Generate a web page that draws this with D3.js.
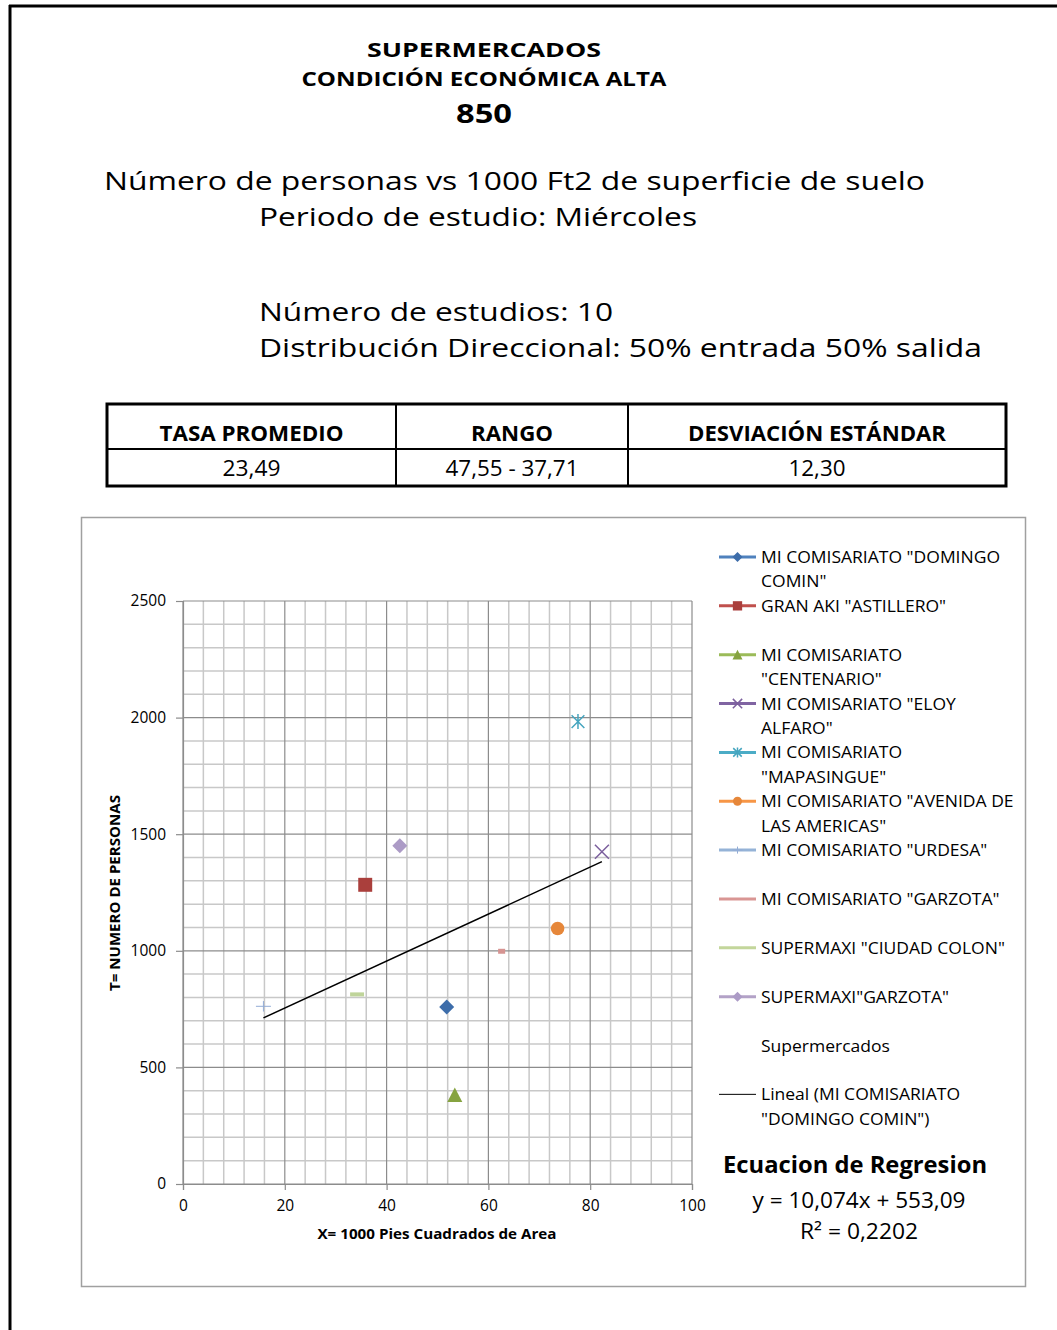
<!DOCTYPE html>
<html>
<head>
<meta charset="utf-8">
<script src="https://cdn.jsdelivr.net/npm/d3@7"></script>
<style>
  body { margin: 0; background: #fff; }
  svg { display: block; }
  text { font-family: "Open Sans", sans-serif; fill: #000; }
</style>
</head>
<body>
<div id="chart"></div>
<script>
// ---- data ----
var titleLines = ["SUPERMERCADOS", "CONDICIÓN ECONÓMICA ALTA", "850"];
var subtitleLines = [
  "Número de personas vs 1000 Ft2 de superficie de suelo",
  "Periodo de estudio: Miércoles",
  "Número de estudios: 10",
  "Distribución Direccional: 50% entrada 50% salida"
];
var tableHeaders = ["TASA PROMEDIO", "RANGO", "DESVIACIÓN ESTÁNDAR"];
var tableValues = ["23,49", "47,55 - 37,71", "12,30"];

var stores = [
  'MI COMISARIATO "DOMINGO COMIN"',
  'GRAN AKI "ASTILLERO"',
  'MI COMISARIATO "CENTENARIO"',
  'MI COMISARIATO "ELOY ALFARO"',
  'MI COMISARIATO "MAPASINGUE"',
  'MI COMISARIATO "AVENIDA DE LAS AMERICAS"',
  'MI COMISARIATO "URDESA"',
  'MI COMISARIATO "GARZOTA"',
  'SUPERMAXI "CIUDAD COLON"',
  'SUPERMAXI"GARZOTA"'
];
// legend text as it wraps in the picture
var legendLines = [
  ['MI COMISARIATO "DOMINGO', 'COMIN"'],
  ['GRAN AKI "ASTILLERO"'],
  ['MI COMISARIATO', '"CENTENARIO"'],
  ['MI COMISARIATO "ELOY', 'ALFARO"'],
  ['MI COMISARIATO', '"MAPASINGUE"'],
  ['MI COMISARIATO "AVENIDA DE', 'LAS AMERICAS"'],
  ['MI COMISARIATO "URDESA"'],
  ['MI COMISARIATO "GARZOTA"'],
  ['SUPERMAXI "CIUDAD COLON"'],
  ['SUPERMAXI"GARZOTA"'],
  ['Supermercados'],
  ['Lineal (MI COMISARIATO', '"DOMINGO COMIN")']
];
var areaX    = [51.8, 35.8, 53.4, 82.3, 77.6, 73.6, 15.8, 62.6, 34.2, 42.6];
var personsY = [759, 1283, 382, 1425, 1983, 1096, 762, 998, 813, 1451];

var xTicks = [0, 20, 40, 60, 80, 100];
var yTicks = [0, 500, 1000, 1500, 2000, 2500];
var slope = 10.074, intercept = 553.09, rSquared = 0.2202;

// ---- styles per series (same order as stores) ----
var markerKind = ["diamond", "square", "triangle", "x", "star", "circle", "plus", "dashSmall", "dashWide", "diamond"];
var markerColor = ["#3d6daa", "#aa3f3c", "#86a340", "#7b5f9d", "#45a5bf", "#e6873a", "#93acd5", "#d69492", "#bfd49a", "#ac9bc6"];
var lineColor = ["#4f81bd", "#c0504d", "#9bbb59", "#8064a2", "#4bacc6", "#f79646", "#95b3d7", "#d99694", "#c3d69b", "#b3a2c7"];

var locale = d3.formatLocale({decimal: ",", thousands: ".", grouping: [3], currency: ["", ""]});
var fmt3 = locale.format(".3f"), fmt2 = locale.format(".2f"), fmt4 = locale.format(".4f");

var W = 1057, H = 1330;
var svg = d3.select("#chart").append("svg").attr("width", W).attr("height", H);

function fit(sel, w) {
  sel.attr("textLength", w).attr("lengthAdjust", "spacingAndGlyphs");
}
function stretch(sel, k) {
  sel.each(function() {
    var n = this.getComputedTextLength();
    d3.select(this).attr("textLength", n * k).attr("lengthAdjust", "spacingAndGlyphs");
  });
}

// page frame (top and left only)
svg.append("line").attr("x1", 9).attr("x2", W).attr("y1", 6).attr("y2", 6)
  .attr("stroke", "#000").attr("stroke-width", 3);
svg.append("line").attr("x1", 10).attr("x2", 10).attr("y1", 5).attr("y2", H)
  .attr("stroke", "#000").attr("stroke-width", 3);

// titles
var titleY = [57, 86, 123], titleW = [234, 365, 56], titleSize = [20, 20, 26];
titleLines.forEach(function(t, i) {
  svg.append("text").attr("x", 484).attr("y", titleY[i])
    .attr("text-anchor", "middle").attr("font-weight", "bold")
    .attr("font-size", titleSize[i]).text(t).call(fit, titleW[i]);
});

var subX = [104, 259, 259, 259], subY = [190, 226, 321, 357], subW = [821, 438, 354, 723];
subtitleLines.forEach(function(t, i) {
  svg.append("text").attr("x", subX[i]).attr("y", subY[i])
    .attr("font-size", 25).text(t).call(fit, subW[i]);
});

// table
var colEdges = [107, 396, 628, 1006];
var table = svg.append("g");
table.append("rect").attr("x", 107).attr("y", 404).attr("width", 899).attr("height", 82)
  .attr("fill", "none").attr("stroke", "#000").attr("stroke-width", 3);
table.append("line").attr("x1", 107).attr("x2", 1006).attr("y1", 449).attr("y2", 449)
  .attr("stroke", "#000").attr("stroke-width", 2);
[1, 2].forEach(function(i) {
  table.append("line").attr("x1", colEdges[i]).attr("x2", colEdges[i]).attr("y1", 404).attr("y2", 486)
    .attr("stroke", "#000").attr("stroke-width", 2);
});
var headW = [184, 82, 258], valW = [58, 133, 57];
tableHeaders.forEach(function(t, i) {
  var cx = (colEdges[i] + colEdges[i + 1]) / 2;
  table.append("text").attr("x", cx).attr("y", 441).attr("text-anchor", "middle")
    .attr("font-weight", "bold").attr("font-size", 21).text(t).call(fit, headW[i]);
  table.append("text").attr("x", cx).attr("y", 476).attr("text-anchor", "middle")
    .attr("font-size", 21).text(tableValues[i]).call(fit, valW[i]);
});

// chart box
svg.append("rect").attr("x", 81.5).attr("y", 517.5).attr("width", 944).attr("height", 769)
  .attr("fill", "#fff").attr("stroke", "#a0a0a0").attr("stroke-width", 1.5);

var x = d3.scaleLinear().domain([0, 100]).range([183, 692]);
var y = d3.scaleLinear().domain([0, 2500]).range([1184, 601]);

// grid
var grid = svg.append("g");
grid.selectAll(".vmin").data(d3.range(0, 101, 4).filter(function(v) { return v % 20; }))
  .enter().append("line").attr("x1", x).attr("x2", x).attr("y1", y(0)).attr("y2", y(2500))
  .attr("stroke", "#c8c8c8").attr("stroke-width", 1.5);
grid.selectAll(".hmin").data(d3.range(0, 2501, 100).filter(function(v) { return v % 500; }))
  .enter().append("line").attr("y1", y).attr("y2", y).attr("x1", x(0)).attr("x2", x(100))
  .attr("stroke", "#c8c8c8").attr("stroke-width", 1.5);
grid.selectAll(".vmaj").data(xTicks)
  .enter().append("line").attr("x1", x).attr("x2", x).attr("y1", y(0)).attr("y2", y(2500))
  .attr("stroke", "#8c8c8c").attr("stroke-width", 1.2);
grid.selectAll(".hmaj").data(yTicks)
  .enter().append("line").attr("y1", y).attr("y2", y).attr("x1", x(0)).attr("x2", x(100))
  .attr("stroke", "#8c8c8c").attr("stroke-width", 1.2);

// axes
var yAxis = svg.append("g").attr("transform", "translate(" + x(0) + ",0)")
  .call(d3.axisLeft(y).tickValues(yTicks).tickSize(7).tickPadding(10).tickFormat(d3.format("d")));
var xAxis = svg.append("g").attr("transform", "translate(0," + y(0) + ")")
  .call(d3.axisBottom(x).tickValues(xTicks).tickSize(6).tickPadding(10).tickFormat(d3.format("d")));
[xAxis, yAxis].forEach(function(a) {
  a.select(".domain").attr("stroke", "#8c8c8c").attr("stroke-width", 1.2);
  a.selectAll(".tick line").attr("stroke", "#8c8c8c").attr("stroke-width", 1.2);
  a.selectAll(".tick text").attr("font-size", 15.5).attr("font-family", "Open Sans, sans-serif").attr("fill", "#000");
});

// axis titles
svg.append("text").attr("x", 437).attr("y", 1239).attr("text-anchor", "middle")
  .attr("font-weight", "bold").attr("font-size", 14).text("X= 1000 Pies Cuadrados de Area").call(fit, 239);
svg.append("text").attr("transform", "translate(120,893) rotate(-90)").attr("text-anchor", "middle")
  .attr("font-weight", "bold").attr("font-size", 14).text("T= NUMERO DE PERSONAS").call(fit, 196);

// marker shapes
function drawMarker(g, kind, color, s) {
  if (kind === "diamond") {
    g.append("path").attr("d", "M0," + (-s) + "L" + s + ",0L0," + s + "L" + (-s) + ",0Z").attr("fill", color);
  } else if (kind === "square") {
    g.append("rect").attr("x", -s * 0.93).attr("y", -s * 0.93).attr("width", s * 1.86).attr("height", s * 1.86).attr("fill", color);
  } else if (kind === "triangle") {
    g.append("path").attr("d", "M0," + (-s) + "L" + s + "," + s * 0.95 + "L" + (-s) + "," + s * 0.95 + "Z").attr("fill", color);
  } else if (kind === "x") {
    var a = s * 0.93;
    g.append("path").attr("d", "M" + (-a) + "," + (-a) + "L" + a + "," + a + "M" + (-a) + "," + a + "L" + a + "," + (-a))
      .attr("stroke", color).attr("stroke-width", 1.5).attr("fill", "none");
  } else if (kind === "star") {
    var b = s * 0.85;
    g.append("path").attr("d", "M" + (-b) + "," + (-b) + "L" + b + "," + b + "M" + (-b) + "," + b + "L" + b + "," + (-b) +
        "M0," + (-s) + "L0," + s)
      .attr("stroke", color).attr("stroke-width", 1.5).attr("fill", "none");
  } else if (kind === "circle") {
    g.append("circle").attr("r", s * 0.9).attr("fill", color);
  } else if (kind === "plus") {
    g.append("path").attr("d", "M" + (-s) + ",0H" + s + "M0," + (-s * 0.7) + "V" + s * 0.7)
      .attr("stroke", color).attr("stroke-width", 1).attr("fill", "none");
  } else if (kind === "dashSmall") {
    g.append("rect").attr("x", -s * 0.47).attr("y", -s * 0.33).attr("width", s * 0.94).attr("height", s * 0.66).attr("fill", color);
  } else if (kind === "dashWide") {
    g.append("rect").attr("x", -s * 0.93).attr("y", -s * 0.27).attr("width", s * 1.86).attr("height", s * 0.54).attr("fill", color);
  }
}

// trend line over the data range
var xr = d3.extent(areaX);
svg.append("line")
  .attr("x1", x(xr[0])).attr("y1", y(slope * xr[0] + intercept))
  .attr("x2", x(xr[1])).attr("y2", y(slope * xr[1] + intercept))
  .attr("stroke", "#000").attr("stroke-width", 1.5);

// points
var pts = svg.append("g");
stores.forEach(function(name, i) {
  var g = pts.append("g").attr("transform", "translate(" + x(areaX[i]) + "," + y(personsY[i]) + ")");
  drawMarker(g, markerKind[i], markerColor[i], 7.5);
});

// legend
var legend = svg.append("g");
var legendTexts = [];
legendLines.forEach(function(lines, i) {
  var by = 563 + i * 48.85;
  var cy = by - 6;
  if (i < stores.length) {
    legend.append("line").attr("x1", 719).attr("x2", 756).attr("y1", cy).attr("y2", cy)
      .attr("stroke", lineColor[i]).attr("stroke-width", 3);
    if (markerKind[i].indexOf("dash") < 0) {
      var g = legend.append("g").attr("transform", "translate(737.5," + cy + ")");
      drawMarker(g, markerKind[i], markerColor[i], 5);
    }
  } else if (i === legendLines.length - 1) {
    legend.append("line").attr("x1", 719).attr("x2", 756).attr("y1", cy).attr("y2", cy)
      .attr("stroke", "#000").attr("stroke-width", 1);
  }
  lines.forEach(function(l, j) {
    legendTexts.push(legend.append("text").attr("x", 761).attr("y", by + j * 24.4)
      .attr("font-size", 16).text(l).node());
  });
});
var refLen = legendTexts[0].getComputedTextLength();
stretch(d3.selectAll(legendTexts), 239 / refLen);

// regression note
svg.append("text").attr("x", 855).attr("y", 1173).attr("text-anchor", "middle")
  .attr("font-weight", "bold").attr("font-size", 23).text("Ecuacion de Regresion").call(fit, 264);
svg.append("text").attr("x", 859).attr("y", 1208).attr("text-anchor", "middle")
  .attr("font-size", 22).text("y = " + fmt3(slope) + "x + " + fmt2(intercept)).call(fit, 213);
svg.append("text").attr("x", 859).attr("y", 1239).attr("text-anchor", "middle")
  .attr("font-size", 22).text("R² = " + fmt4(rSquared)).call(fit, 118);
</script>
</body>
</html>
